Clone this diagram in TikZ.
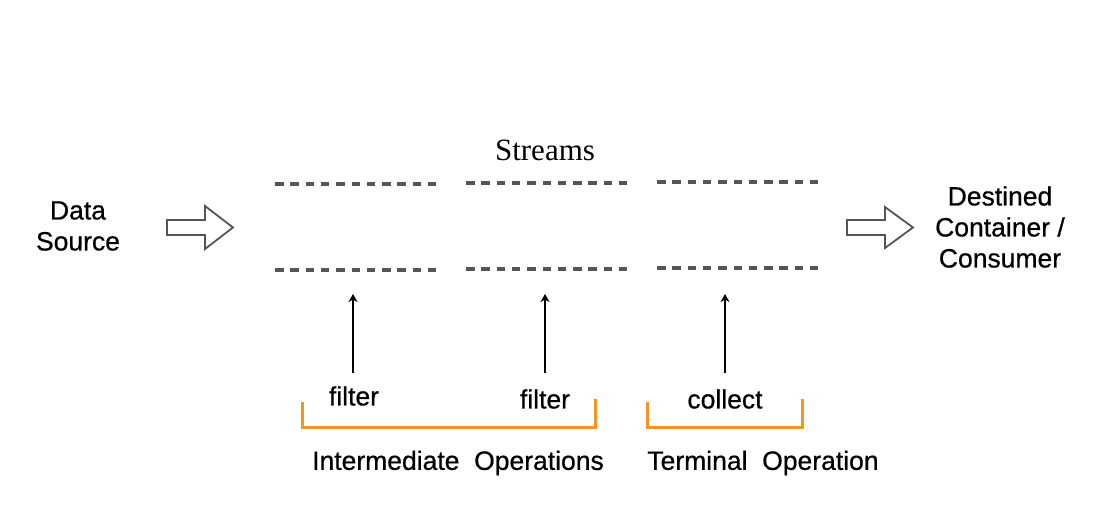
\documentclass[tikz,border=0pt]{standalone}
\usepackage{fontspec}
\setmainfont{Liberation Sans}[BoldFont=Liberation Sans,BoldFeatures={FakeBold=0.6}]
\newfontfamily\titlefont{Liberation Serif}
\usetikzlibrary{arrows.meta}
\definecolor{pipegray}{HTML}{555555}
\definecolor{bracketorange}{HTML}{F7941D}
\begin{document}
\begin{tikzpicture}[x=1pt,y=-1pt,
  lbl/.style={inner sep=0pt,font=\fontsize{26.5}{31}\selectfont\bfseries,align=center},
  pipe/.style={draw=pipegray,line width=3.5pt,dash pattern=on 8.5pt off 6.8pt},
  blockarrow/.style={draw=pipegray,line width=1.8pt,fill=white,line join=miter},
  oparrow/.style={draw=black,line width=1.5pt,-{Stealth[length=8pt,width=9pt,inset=2.5pt]}},
  bracket/.style={draw=bracketorange,line width=3pt}]
\useasboundingbox (0,0) rectangle (1113,518);

% source and destination
\node[lbl] (src) at (78,226) {Data\\Source};
\node[lbl] (dst) at (1000,227) {Destined\\Container /\\Consumer};
\node[inner sep=0pt,font=\titlefont\fontsize{31}{34}\selectfont] (title) at (545,150) {Streams};

% block arrows into and out of the pipe
\draw[blockarrow] (167,220) -- (205,220) -- (205,206) -- (233,227.5) -- (205,249)
  -- (205,235) -- (167,235) -- cycle;
\draw[blockarrow] (847,220) -- (885,220) -- (885,207) -- (913,227.5) -- (885,248)
  -- (885,235) -- (847,235) -- cycle;

% dashed walls of the stream, three segments
\draw[pipe] (275,184) -- (436,184);
\draw[pipe] (275,270) -- (436,270);
\draw[pipe] (466,183) -- (627,183);
\draw[pipe] (466,269) -- (627,269);
\draw[pipe] (657,182) -- (818,182);
\draw[pipe] (657,268) -- (818,268);

% operations
\node[lbl] (f1) at (354,396) {filter};
\node[lbl] (f2) at (545,399) {filter};
\node[lbl] (col) at (725,399) {collect};
\coordinate (p1) at (353,294);
\coordinate (p2) at (545,294);
\coordinate (p3) at (725,294);
\draw[oparrow] (353,373) -- (p1);
\draw[oparrow] (545,373) -- (p2);
\draw[oparrow] (725,373) -- (p3);

% grouping brackets
\draw[bracket] (302,402) -- (302,427.5) -- (595.5,427.5) -- (595.5,399);
\draw[bracket] (647.5,402) -- (647.5,427.5) -- (802.5,427.5) -- (802.5,399);
\node[lbl] (inter) at (458,463) {Intermediate\ \ Operations};
\node[lbl] (term) at (763,463) {Terminal\ \ Operation};
\end{tikzpicture}
\end{document}
